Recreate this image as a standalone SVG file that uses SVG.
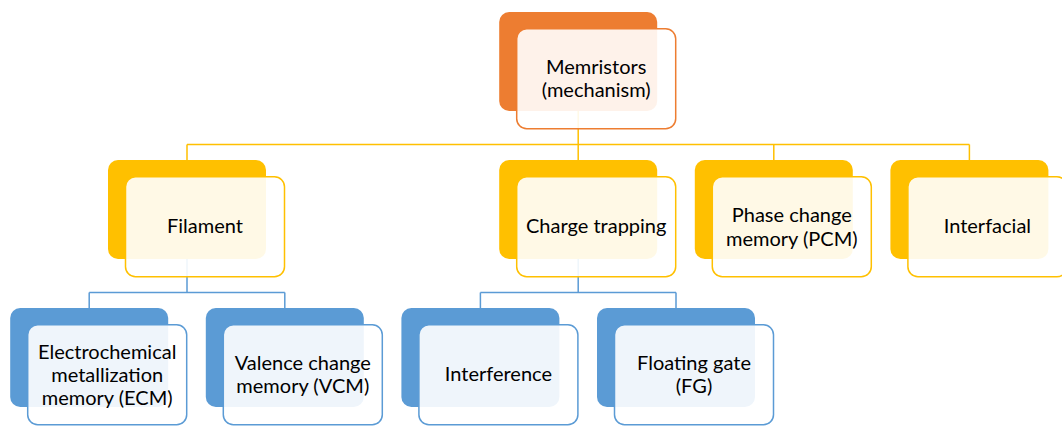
<svg xmlns="http://www.w3.org/2000/svg" width="1062" height="426" viewBox="0 0 1062 426">
  <style>
    .back { stroke: none; }
    .front { fill: #ffffff; fill-opacity: 0.9; stroke-width: 1.5; }
    .o .back { fill: #ED7D31; } .o .front { stroke: #ED7D31; }
    .g .back { fill: #FFC000; } .g .front { stroke: #FFC000; }
    .b .back { fill: #5B9BD5; } .b .front { stroke: #5B9BD5; }
    .lbl { font-family: Lato, "Open Sans", "Liberation Sans", sans-serif; font-size: 20px; fill: #000; text-anchor: middle; }
    .wire { fill: none; stroke-width: 1.5; }
    .wire.g { stroke: #FFC000; }
    .wire.b { stroke: #5B9BD5; }
  </style>

  <!-- connectors run from back-card centres, beneath the cards -->
  <g id="connectors">
    <path class="wire g" d="M578.2 111 V144.5 M187 144.5 H969.4 M187 144.5 V160 M578.2 144.5 V160 M773.8 144.5 V160 M969.4 144.5 V160"/>
    <path class="wire b" d="M187 259 V292.5 M89.2 292.5 H284.8 M89.2 292.5 V308 M284.8 292.5 V308"/>
    <path class="wire b" d="M578.2 259 V292.5 M480.4 292.5 H676 M480.4 292.5 V308 M676 292.5 V308"/>
  </g>

  <!-- root -->
  <g id="memristors" class="o">
    <rect class="back" x="499.2" y="12" width="158" height="99" rx="10"/>
    <rect class="front" x="516.7" y="28.75" width="159" height="100" rx="10"/>
    <text class="lbl" x="596.2" y="74"><tspan x="596.2">Memristors</tspan><tspan x="596.2" dy="23">(mechanism)</tspan></text>
  </g>

  <!-- level 1 -->
  <g id="filament" class="g">
    <rect class="back" x="108" y="160" width="158" height="99" rx="10"/>
    <rect class="front" x="125.5" y="176.75" width="159" height="100" rx="10"/>
    <text class="lbl" x="205" y="233">Filament</text>
  </g>
  <g id="charge-trapping" class="g">
    <rect class="back" x="499.2" y="160" width="158" height="99" rx="10"/>
    <rect class="front" x="516.7" y="176.75" width="159" height="100" rx="10"/>
    <text class="lbl" x="596.2" y="233">Charge trapping</text>
  </g>
  <g id="pcm" class="g">
    <rect class="back" x="694.8" y="160" width="158" height="99" rx="10"/>
    <rect class="front" x="712.3" y="176.75" width="159" height="100" rx="10"/>
    <text class="lbl" x="791.8" y="222"><tspan x="791.8">Phase change</tspan><tspan x="791.8" dy="23.5">memory (PCM)</tspan></text>
  </g>
  <g id="interfacial" class="g">
    <rect class="back" x="890.4" y="160" width="158" height="99" rx="10"/>
    <rect class="front" x="907.9" y="176.75" width="159" height="100" rx="10"/>
    <text class="lbl" x="987.4" y="233">Interfacial</text>
  </g>

  <!-- level 2 -->
  <g id="ecm" class="b">
    <rect class="back" x="10.2" y="308" width="158" height="99" rx="10"/>
    <rect class="front" x="27.7" y="324.75" width="159" height="100" rx="10"/>
    <text class="lbl" x="107.2" y="359"><tspan x="107.2">Electrochemical</tspan><tspan x="107.2" dy="23">metallization</tspan><tspan x="107.2" dy="23">memory (ECM)</tspan></text>
  </g>
  <g id="vcm" class="b">
    <rect class="back" x="205.8" y="308" width="158" height="99" rx="10"/>
    <rect class="front" x="223.3" y="324.75" width="159" height="100" rx="10"/>
    <text class="lbl" x="302.8" y="370"><tspan x="302.8">Valence change</tspan><tspan x="302.8" dy="23">memory (VCM)</tspan></text>
  </g>
  <g id="interference" class="b">
    <rect class="back" x="401.4" y="308" width="158" height="99" rx="10"/>
    <rect class="front" x="418.9" y="324.75" width="159" height="100" rx="10"/>
    <text class="lbl" x="498.4" y="381">Interference</text>
  </g>
  <g id="floating-gate" class="b">
    <rect class="back" x="597" y="308" width="158" height="99" rx="10"/>
    <rect class="front" x="614.5" y="324.75" width="159" height="100" rx="10"/>
    <text class="lbl" x="694" y="370"><tspan x="694">Floating gate</tspan><tspan x="694" dy="23">(FG)</tspan></text>
  </g>
</svg>
